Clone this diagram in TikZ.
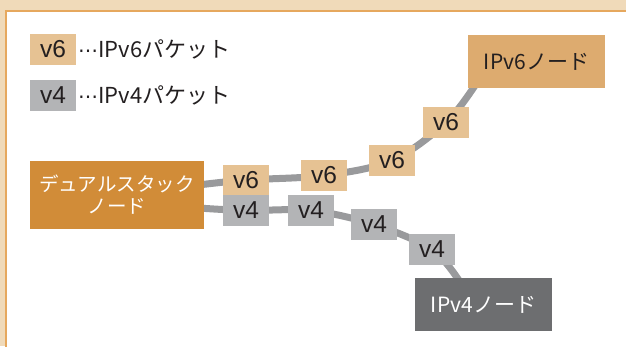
\documentclass[tikz,border=0pt]{standalone}
\usepackage{fontspec}
\setmainfont{Noto Sans CJK JP}
\newfontfamily\dotfont{DejaVu Sans}
\newfontfamily\latfont{Liberation Sans}
\definecolor{outerbg}{HTML}{F0DAB9}
\definecolor{panelline}{HTML}{E6A85E}
\definecolor{vsixfill}{HTML}{E6C293}
\definecolor{vfourfill}{HTML}{B3B4B6}
\definecolor{ipsixfill}{HTML}{DDAB6F}
\definecolor{dualfill}{HTML}{D18C38}
\definecolor{ipfourfill}{HTML}{6D6E70}
\definecolor{wire}{HTML}{999A9C}
\definecolor{ink}{HTML}{231F20}
\pgfdeclarelayer{bg}
\pgfdeclarelayer{wires}
\pgfsetlayers{bg,wires,main}
\tikzset{
  pkt/.style={inner sep=0pt, minimum width=46pt, minimum height=30.5pt, text=ink,
    font=\latfont\fontsize{24.5}{24.5}\selectfont},
  pktsix/.style={pkt, fill=vsixfill},
  pktfour/.style={pkt, fill=vfourfill},
  hostbox/.style={inner sep=0pt, minimum width=137pt, minimum height=53pt,
    font=\fontsize{21}{21}\selectfont},
  legtext/.style={anchor=west, inner sep=0pt, text=ink, font=\fontsize{22}{22}\selectfont},
  wireline/.style={line width=7pt, wire, line cap=round}
}
\begin{document}
\begin{tikzpicture}[x=1pt,y=-1pt]
\useasboundingbox (0,0) rectangle (626,346);
\begin{pgfonlayer}{bg}
  \fill[outerbg] (0,0) rectangle (626,346);
  \filldraw[fill=white, draw=panelline, line width=1.5pt] (6,11) rectangle (650,370);
\end{pgfonlayer}
% legend
\node[pktsix] (leg6) at (53,49.5) {v6};
\node[pktfour] (leg4) at (53,95.5) {v4};
\node[legtext] (leg6t) at (78,49.5) {{\dotfont\fontsize{20}{20}\selectfont ⋯}IPv6パケット};
\node[legtext] (leg4t) at (78,95.5) {{\dotfont\fontsize{20}{20}\selectfont ⋯}IPv4パケット};
% hosts
\node[hostbox, fill=ipsixfill, text=ink] (ipsix) at (536.5,61.5) {IPv6ノード};
\node[hostbox, fill=ipfourfill, text=white] (ipfour) at (483.5,304.5) {IPv4ノード};
\node[inner sep=0pt, minimum width=174pt, minimum height=68pt, fill=dualfill, text=white,
  align=center, font=\fontsize{19.5}{22}\selectfont] (dual) at (117,195) {デュアルスタック\\ノード};
% v6 packets
\node[pktsix] (a1) at (246,180) {v6};
\node[pktsix] (a2) at (324,175.5) {v6};
\node[pktsix] (a3) at (392,160.5) {v6};
\node[pktsix] (a4) at (446,122.5) {v6};
% v4 packets
\node[pktfour] (b1) at (246,210.5) {v4};
\node[pktfour] (b2) at (311,210.5) {v4};
\node[pktfour] (b3) at (374,224.5) {v4};
\node[pktfour] (b4) at (432,249.5) {v4};
% wires
\coordinate (s6) at ([xshift=-6pt,yshift=10pt]dual.east);
\coordinate (e6) at ([xshift=8pt,yshift=4pt]ipsix.south west);
\coordinate (s4) at ([xshift=-6pt,yshift=-13pt]dual.east);
\coordinate (e4) at ([xshift=45pt,yshift=-4pt]ipfour.north west);
\begin{pgfonlayer}{wires}
  \draw[wireline] plot[smooth, tension=0.55] coordinates {(s6) (a1) (a2) (a3) (a4) (e6)};
  \draw[wireline] plot[smooth, tension=0.55] coordinates {(s4) (b1) (b2) (b3) (b4) (e4)};
\end{pgfonlayer}
\end{tikzpicture}
\end{document}
